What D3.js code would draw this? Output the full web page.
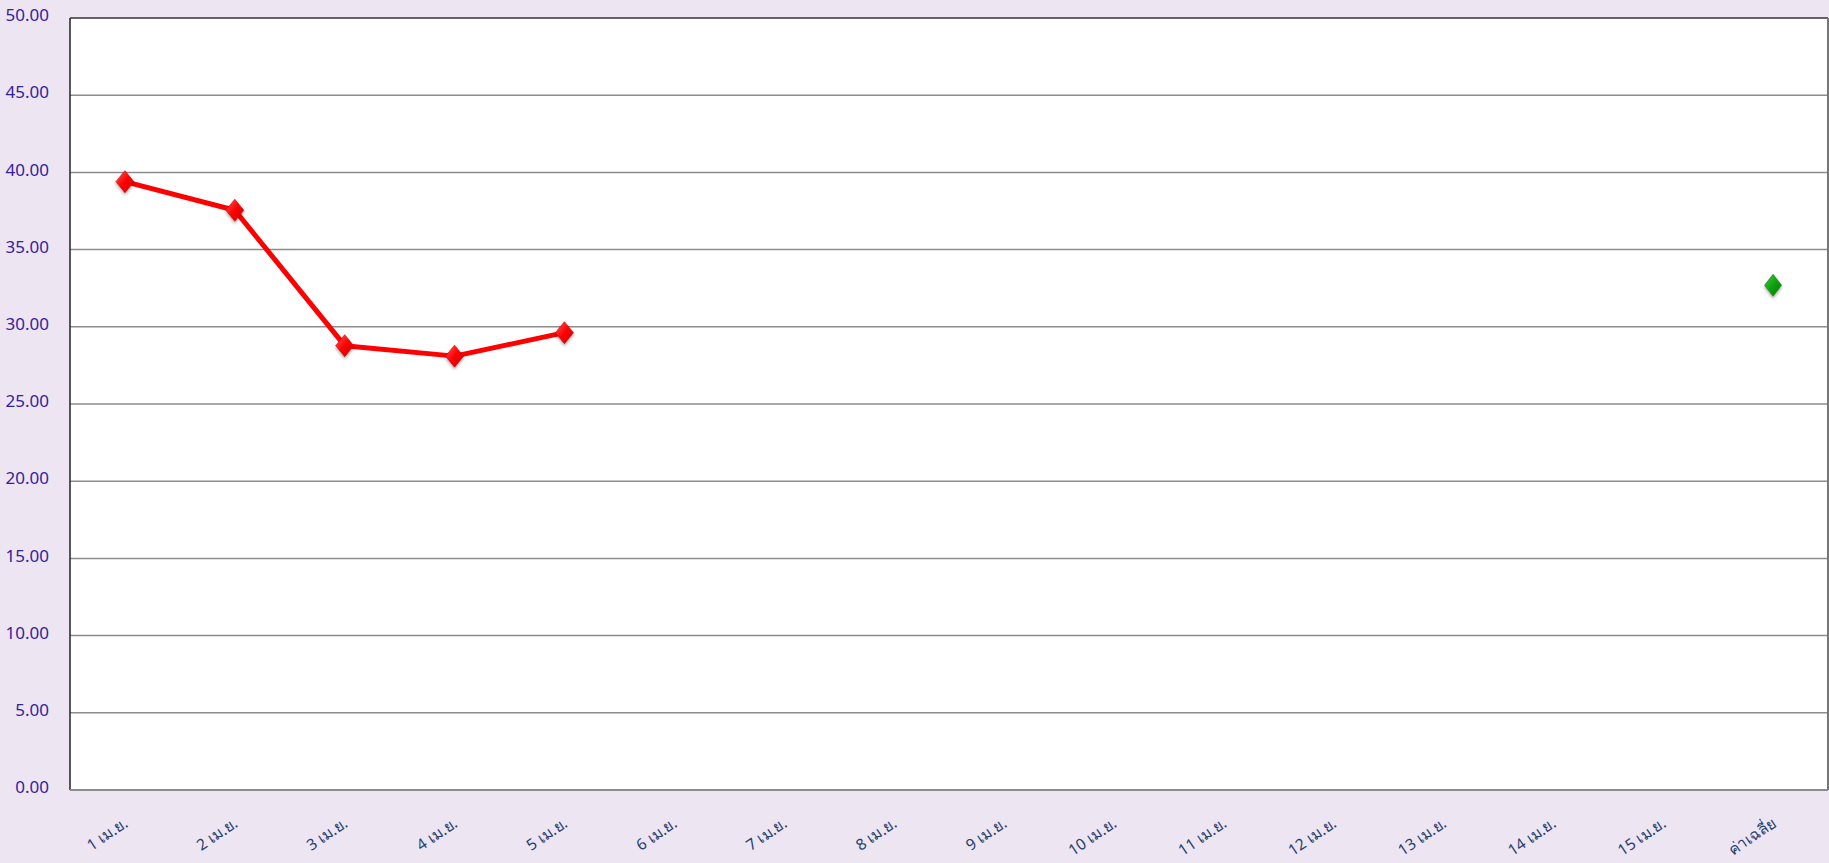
<!DOCTYPE html>
<html>
<head>
<meta charset="utf-8">
<script src="https://cdnjs.cloudflare.com/ajax/libs/d3/7.8.5/d3.min.js"></script>
<style>
  html, body { margin: 0; padding: 0; background: #ede5f1; }
  svg { display: block; }
</style>
</head>
<body>
<svg class="chart"></svg>
<script>
// categories (days of April + the average column)
let days = ['1 เม.ย.', '2 เม.ย.', '3 เม.ย.', '4 เม.ย.', '5 เม.ย.', '6 เม.ย.', '7 เม.ย.', '8 เม.ย.',
            '9 เม.ย.', '10 เม.ย.', '11 เม.ย.', '12 เม.ย.', '13 เม.ย.', '14 เม.ย.', '15 เม.ย.', 'ค่าเฉลี่ย'];

// daily values (only first five days reported)
let dailyDays = ['1 เม.ย.', '2 เม.ย.', '3 เม.ย.', '4 เม.ย.', '5 เม.ย.'];
let dailyValues = [39.40, 37.55, 28.78, 28.10, 29.62];

// average point
let avgLabel = 'ค่าเฉลี่ย';
let avgValue = 32.69;

// y ticks
let yTicks = [0, 5, 10, 15, 20, 25, 30, 35, 40, 45, 50];

let width = 1829;
let height = 863;
let margin = {top: 18, right: 1, bottom: 73, left: 70};

let svg = d3.select('svg.chart')
  .attr('width', width)
  .attr('height', height);

let x = d3.scaleBand()
  .domain(days)
  .range([margin.left, width - margin.right]);

let y = d3.scaleLinear()
  .domain([0, 50])
  .range([height - margin.bottom, margin.top]);

let cx = d => x(d) + x.bandwidth() / 2;

// defs: gradients + shadow for the markers
let defs = svg.append('defs');
function diamondGrad(id, light, mid, dark) {
  let g = defs.append('linearGradient')
    .attr('id', id)
    .attr('x1', 0).attr('y1', 0).attr('x2', 1).attr('y2', 1);
  g.append('stop').attr('offset', '0%').attr('stop-color', light);
  g.append('stop').attr('offset', '50%').attr('stop-color', mid);
  g.append('stop').attr('offset', '100%').attr('stop-color', dark);
}
diamondGrad('redGrad', '#ff5a5a', '#ff0000', '#c80000');
diamondGrad('greenGrad', '#3fcf3f', '#10a010', '#067806');

let shadow = defs.append('filter').attr('id', 'shadow')
  .attr('x', '-50%').attr('y', '-50%').attr('width', '200%').attr('height', '200%');
shadow.append('feDropShadow')
  .attr('dx', 0).attr('dy', 2).attr('stdDeviation', 1.5)
  .attr('flood-color', '#000').attr('flood-opacity', 0.35);

// plot background
svg.append('rect')
  .attr('x', margin.left)
  .attr('y', margin.top)
  .attr('width', width - margin.left - margin.right)
  .attr('height', height - margin.top - margin.bottom)
  .style('fill', '#ffffff');

// gridlines
svg.append('g')
  .selectAll('line')
  .data(yTicks.filter(d => d > 0 && d < 50))
  .enter()
  .append('line')
  .attr('x1', margin.left)
  .attr('x2', width - margin.right)
  .attr('y1', d => y(d))
  .attr('y2', d => y(d))
  .style('stroke', '#8c8c8c')
  .style('stroke-width', 1.5);

// frame: top + left dark, right + bottom grey
let x0 = margin.left, x1 = width - margin.right;
let y0 = margin.top, y1 = height - margin.bottom;
svg.append('line').attr('x1', x0).attr('x2', x1).attr('y1', y0).attr('y2', y0)
  .style('stroke', '#333').style('stroke-width', 1.5);
svg.append('line').attr('x1', x0).attr('x2', x0).attr('y1', y0).attr('y2', y1)
  .style('stroke', '#222').style('stroke-width', 1.5);
svg.append('line').attr('x1', x1).attr('x2', x1).attr('y1', y0).attr('y2', y1)
  .style('stroke', '#777').style('stroke-width', 2);
svg.append('line').attr('x1', x0).attr('x2', x1).attr('y1', y1).attr('y2', y1)
  .style('stroke', '#8c8c8c').style('stroke-width', 2);

// y axis labels
svg.append('g')
  .selectAll('text')
  .data(yTicks)
  .enter()
  .append('text')
  .attr('x', 49)
  .attr('y', d => y(d) - 3)
  .attr('dy', '0.36em')
  .attr('text-anchor', 'end')
  .style('font-family', "'Liberation Sans Narrow', 'Noto Sans', sans-serif")
  .style('font-size', '17px')
  .style('fill', '#3322a0')
  .text(d => d3.format('.2f')(d));

// x axis labels, rotated
svg.append('g')
  .selectAll('text')
  .data(days)
  .enter()
  .append('text')
  .attr('transform', d => `translate(${cx(d) + 4},${y1 + 36}) rotate(-34)`)
  .attr('text-anchor', 'end')
  .style('font-family', "'Noto Sans', 'Open Sans', sans-serif")
  .style('font-size', '15.5px')
  .style('fill', '#24406e')
  .text(d => d);

// red line for daily values
let daily = dailyDays.map((d, i) => ({day: d, value: dailyValues[i]}));
let line = d3.line()
  .x(d => cx(d.day))
  .y(d => y(d.value));

svg.append('path')
  .datum(daily)
  .attr('d', line)
  .style('fill', 'none')
  .style('stroke', '#ff0000')
  .style('stroke-width', 5)
  .style('stroke-linejoin', 'round');

// diamond path helper
let diamond = (w, h) => `M0,${-h}L${w},0L0,${h}L${-w},0Z`;

svg.append('g')
  .selectAll('path')
  .data(daily)
  .enter()
  .append('path')
  .attr('transform', d => `translate(${cx(d.day)},${y(d.value)})`)
  .attr('d', diamond(9, 11))
  .attr('filter', 'url(#shadow)')
  .style('fill', 'url(#redGrad)')
  .style('stroke', '#d00000')
  .style('stroke-width', 0.6);

// green average marker
svg.append('path')
  .attr('transform', `translate(${cx(avgLabel)},${y(avgValue)})`)
  .attr('d', diamond(8.5, 11))
  .attr('filter', 'url(#shadow)')
  .style('fill', 'url(#greenGrad)')
  .style('stroke', '#0a800a')
  .style('stroke-width', 0.6);
</script>
</body>
</html>
